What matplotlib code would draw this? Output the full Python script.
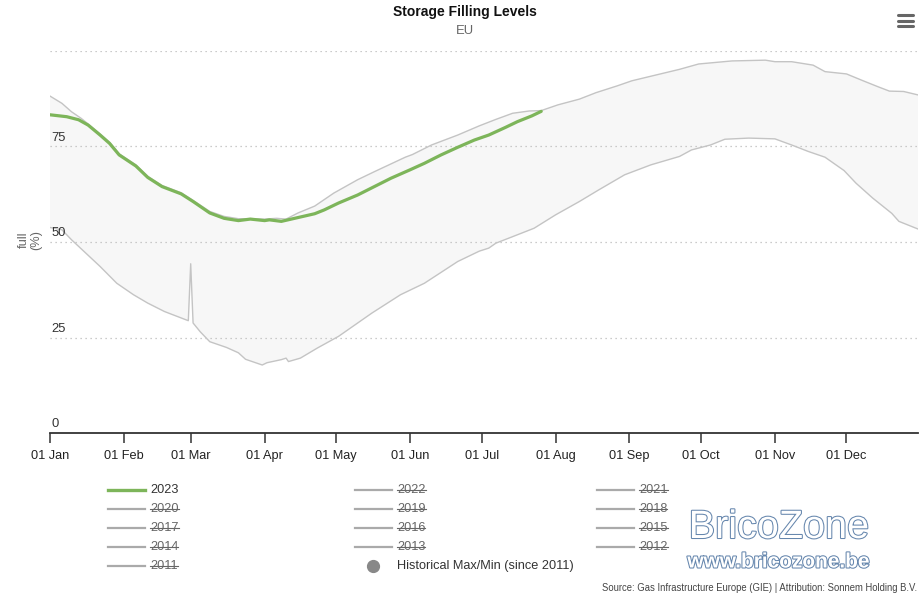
import matplotlib
matplotlib.use('Agg')
import matplotlib.pyplot as plt
import matplotlib.dates as mdates
import matplotlib.patheffects as pe
import matplotlib.transforms as mtransforms
from matplotlib.lines import Line2D
import numpy as np

plt.rcParams['font.family'] = ['Liberation Sans', 'DejaVu Sans']

# Dados (dia do ano, % cheio)
dias_2023 = [0, 7, 12, 16, 21, 25, 29, 36, 41, 47, 55, 60, 67, 73, 79, 84, 90, 92, 97,
             104, 111, 115, 121, 129, 136, 143, 151, 157, 164, 171, 178, 184, 191, 196, 202, 206]
valores_2023 = [83.3, 82.8, 82.0, 80.6, 78.0, 75.8, 72.8, 69.9, 66.9, 64.5, 62.6, 60.6, 57.6, 56.2,
                55.6, 56.0, 55.6, 55.8, 55.4, 56.4, 57.4, 58.4, 60.2, 62.3, 64.5, 66.7, 68.9, 70.6,
                72.8, 74.8, 76.7, 78.0, 80.0, 81.5, 83.0, 84.2]

dias_max = [0, 5, 9, 13, 16, 21, 25, 29, 36, 41, 47, 55, 60, 67, 73, 79, 84, 90, 95, 99,
            104, 111, 119, 129, 136, 149, 152, 160, 171, 180, 187, 194, 201, 206, 213, 222,
            229, 238, 244, 254, 264, 272, 279, 286, 293, 300, 304, 311, 320, 325, 334, 341,
            347, 352, 358, 364]
valores_max = [88.2, 86.3, 84.1, 82.4, 80.9, 78.3, 76.1, 73.1, 70.2, 67.2, 64.8, 62.9, 60.9,
               58.0, 56.7, 56.1, 56.1, 56.0, 56.2, 56.0, 57.6, 59.4, 62.8, 66.3, 68.4, 72.2,
               72.9, 75.4, 78.0, 80.4, 82.1, 83.7, 84.3, 84.4, 85.9, 87.4, 89.1, 90.9, 92.2,
               93.7, 95.2, 96.6, 97.0, 97.4, 97.5, 97.6, 97.2, 97.2, 96.3, 94.6, 94.0, 92.2,
               90.7, 89.5, 89.4, 88.5]

dias_min = [0, 5, 9, 15, 21, 28, 35, 41, 48, 58, 59, 60, 63, 67, 74, 79, 82, 89, 91, 97,
            99, 100, 105, 112, 121, 135, 147, 157, 171, 180, 184, 187, 194, 203, 212, 222,
            230, 241, 252, 264, 269, 277, 283, 293, 304, 311, 318, 325, 333, 338, 345, 353,
            356, 364]
valores_min = [53.8, 53.2, 50.6, 47.1, 43.6, 39.2, 36.2, 34.0, 31.8, 29.4, 44.3, 28.8, 26.5,
               23.9, 22.4, 21.0, 19.3, 17.8, 18.4, 19.2, 19.6, 18.7, 19.6, 22.2, 25.3, 31.4,
               36.2, 39.2, 44.9, 47.6, 48.4, 49.7, 51.4, 53.6, 57.1, 60.6, 63.6, 67.6, 70.2,
               72.4, 74.1, 75.4, 76.9, 77.2, 77.0, 75.4, 73.7, 72.2, 68.7, 65.4, 61.5, 57.5,
               55.4, 53.4]

anos_legenda = ['2023', '2022', '2021', '2020', '2019', '2018', '2017', '2016', '2015',
                '2014', '2013', '2012', '2011']
y_ticks = [0, 25, 50, 75, 100]

base = np.datetime64('2023-01-01')
def para_datas(dias):
    return mdates.date2num(base + np.array(dias).astype('timedelta64[D]'))

W, H = 923, 605
fig = plt.figure(figsize=(W / 100, H / 100), dpi=100)
ax = fig.add_axes([50 / W, 172 / H, 868 / W, 382 / H])

x_max, x_min = para_datas(dias_max), para_datas(dias_min)
ax.fill(np.concatenate([x_max, x_min[::-1]]), np.concatenate([valores_max, valores_min[::-1]]),
        color='#f7f7f7', lw=0, zorder=1)
ax.plot(x_max, valores_max, color='#c4c4c4', lw=1, zorder=2)
ax.plot(x_min, valores_min, color='#c4c4c4', lw=1, zorder=2)
ax.plot(para_datas(dias_2023), valores_2023, color='#7db55a', lw=2.3, zorder=3,
        solid_capstyle='round', solid_joinstyle='round')

ax.set_xlim(para_datas([0, 364]))
ax.set_ylim(0, 100)
ax.xaxis.set_major_locator(mdates.MonthLocator())
ax.xaxis.set_major_formatter(mdates.DateFormatter('%d %b'))
ax.tick_params(axis='x', length=7.5, width=1.1, color='#333333', labelsize=9.2,
               labelcolor='#222222', pad=5)
ax.set_yticks(y_ticks)
ax.set_yticklabels([])
ax.tick_params(axis='y', length=0)
ax.set_axisbelow('line')
ax.yaxis.grid(True, color='#bbbbbb', linestyle=(0, (1, 3)), lw=0.9)
for s in ['top', 'left', 'right']:
    ax.spines[s].set_visible(False)
ax.spines['bottom'].set_color('#333333')
ax.spines['bottom'].set_linewidth(1.3)
ax.spines['bottom'].set_zorder(5)

trans = mtransforms.offset_copy(ax.get_yaxis_transform(), fig=fig, x=1, y=2, units='points')
for v in y_ticks[:-1]:
    ax.text(0, v, str(v), transform=trans, ha='left', va='bottom', fontsize=9.4, color='#333333')

fig.text(30 / W, 1 - 240 / H, 'full\n(%)', rotation=90, ha='center', va='center',
         fontsize=9.2, color='#666666', linespacing=1.0)

fig.text(0.5 + 3 / W, 1 - 12 / H, 'Storage Filling Levels', ha='center', va='center',
         fontsize=10, fontweight='bold', color='#111111')
fig.text(0.5 + 3 / W, 1 - 31 / H, 'EU', ha='center', va='center', fontsize=9.4, color='#666666')

# menu
for yy in [15, 20.5, 26]:
    fig.add_artist(Line2D([898 / W, 913 / W], [1 - yy / H, 1 - yy / H], color='#666666',
                          lw=2.2, solid_capstyle='round'))

# legenda
cols = [108, 355, 597]
rows = [490, 509, 528, 547, 566]
renderer = fig.canvas.get_renderer()
for i, ano in enumerate(anos_legenda):
    cx, cy = cols[i % 3], rows[i // 3]
    ativo = ano == '2023'
    fig.add_artist(Line2D([cx / W, (cx + 37) / W], [1 - cy / H, 1 - cy / H],
                          color='#7db55a' if ativo else '#aaaaaa', lw=2.4 if ativo else 1.6))
    t = fig.text((cx + 42) / W, 1 - cy / H, ano, ha='left', va='center', fontsize=9.2,
                 color='#333333' if ativo else '#666666')
    if not ativo:
        bb = t.get_window_extent(renderer)
        ym = (bb.y0 + bb.y1) / 2 + 0.5
        fig.add_artist(Line2D([bb.x0 / W, bb.x1 / W], [ym / H, ym / H], color='#666666', lw=0.8))
fig.add_artist(Line2D([373 / W], [1 - 566 / H], marker='o', markersize=8.5, color='#888888', lw=0))
fig.text(397 / W, 1 - 566 / H, 'Historical Max/Min (since 2011)', ha='left', va='center',
         fontsize=9.2, color='#333333')

fig.text(917 / W, 1 - 588 / H, 'Source: Gas Infrastructure Europe (GIE) | Attribution: Sonnem Holding B.V.',
         ha='right', va='center', fontsize=6.85, color='#444444')

# marca d'agua
fig.text(779 / W, 1 - 527 / H, 'BricoZone', ha='center', va='center', fontsize=28.5, color='white',
         path_effects=[pe.Stroke(linewidth=1.5, foreground='#6586ad'), pe.Normal()])
fig.text(779 / W, 1 - 562 / H, 'www.bricozone.be', ha='center', va='center', fontsize=15,
         fontweight='bold', color='white',
         path_effects=[pe.Stroke(linewidth=1.5, foreground='#6586ad'), pe.Normal()])

fig.savefig('out.png', dpi=100)
